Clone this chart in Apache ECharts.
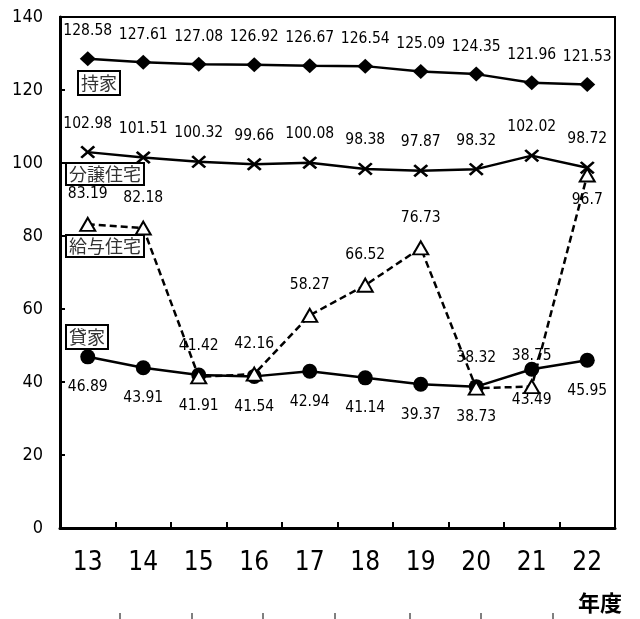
<!DOCTYPE html>
<html>
<head>
<meta charset="utf-8">
<script src="https://cdn.jsdelivr.net/npm/echarts@6/dist/echarts.min.js"></script>
<style>
  html, body { margin: 0; padding: 0; background: #fff; }
  #chart { width: 640px; height: 619px; }
</style>
</head>
<body>
<div id="chart"></div>
<script>
// 年度 (fiscal years)
const years = ['13', '14', '15', '16', '17', '18', '19', '20', '21', '22'];

// 持家
const mochiie = [128.58, 127.61, 127.08, 126.92, 126.67, 126.54, 125.09, 124.35, 121.96, 121.53];
// 分譲住宅
const bunjo = [102.98, 101.51, 100.32, 99.66, 100.08, 98.38, 97.87, 98.32, 102.02, 98.72];
// 給与住宅
const kyuyo = [83.19, 82.18, 41.42, 42.16, 58.27, 66.52, 76.73, 38.32, 38.75, 96.7];
// 貸家
const kashiya = [46.89, 43.91, 41.91, 41.54, 42.94, 41.14, 39.37, 38.73, 43.49, 45.95];

const yTicks = { min: 0, max: 140, interval: 20 };

const numFont = "'DejaVu Sans Condensed', 'DejaVu Sans', sans-serif";
const jpFont = "'Noto Sans CJK JP', sans-serif";

// thick X-shaped marker
const crossPath = 'path://M0,1.3 L1.3,0 L5,3.7 L8.7,0 L10,1.3 L6.3,5 L10,8.7 L8.7,10 L5,6.3 L1.3,10 L0,8.7 L3.7,5 Z';

function valueLabel(pos, dist) {
  return {
    show: true,
    position: pos,
    distance: dist,
    color: '#000',
    fontFamily: numFont,
    fontSize: 15.5,
    formatter: p => String(p.value)
  };
}

const chart = echarts.init(document.getElementById('chart'), null, { renderer: 'canvas' });

const option = {
  backgroundColor: '#fff',
  animation: false,
  grid: {
    left: 60, right: 25, top: 17, bottom: 91,
    show: true, borderColor: '#000', borderWidth: 2, backgroundColor: 'transparent'
  },
  xAxis: {
    type: 'category',
    data: years,
    boundaryGap: true,
    axisLine: { lineStyle: { color: '#000', width: 3 } },
    axisTick: { show: true, inside: true, length: 6, lineStyle: { color: '#000', width: 2 } },
    axisLabel: { color: '#000', fontFamily: numFont, fontSize: 26, margin: 22 },
    splitLine: { show: false }
  },
  yAxis: {
    type: 'value',
    min: yTicks.min, max: yTicks.max, interval: yTicks.interval,
    axisLine: { show: true, lineStyle: { color: '#000', width: 3 } },
    axisTick: { show: true, inside: true, length: 5, lineStyle: { color: '#000', width: 2 } },
    axisLabel: { color: '#000', fontFamily: numFont, fontSize: 18, margin: 17 },
    splitLine: { show: false }
  },
  series: [
    {
      name: '持家', type: 'line', data: mochiie,
      symbol: 'diamond', symbolSize: [16, 15],
      lineStyle: { color: '#000', width: 2.5 },
      itemStyle: { color: '#000' },
      label: valueLabel('top', 12)
    },
    {
      name: '分譲住宅', type: 'line', data: bunjo,
      symbol: crossPath, symbolSize: [15, 13],
      lineStyle: { color: '#000', width: 2.5 },
      itemStyle: { color: '#000' },
      label: valueLabel('top', 14)
    },
    {
      name: '給与住宅', type: 'line',
      data: kyuyo.map((v, i) => i === kyuyo.length - 1
        ? { value: v, label: { position: 'bottom', distance: 9 } }
        : v),
      symbol: 'triangle', symbolSize: [15, 13],
      lineStyle: { color: '#000', width: 2.5, type: [7, 4] },
      itemStyle: { color: '#fff', borderColor: '#000', borderWidth: 2 },
      label: valueLabel('top', 15),
      z: 3
    },
    {
      name: '貸家', type: 'line', data: kashiya,
      symbol: 'circle', symbolSize: 15,
      lineStyle: { color: '#000', width: 2.5 },
      itemStyle: { color: '#000' },
      label: valueLabel('bottom', 15),
      z: 2
    }
  ],
  graphic: [
    // series name boxes
    { type: 'text', left: 77, top: 70, z: 100,
      style: { text: '持家', fill: '#333', font: '18px ' + jpFont, backgroundColor: '#fff',
               borderColor: '#000', borderWidth: 2, padding: [2, 2, 2, 2] } },
    { type: 'text', left: 65, top: 162, z: 100,
      style: { text: '分譲住宅', fill: '#333', font: '18px ' + jpFont, backgroundColor: '#fff',
               borderColor: '#000', borderWidth: 2, padding: [1, 2, 1, 2] } },
    { type: 'text', left: 65, top: 234, z: 100,
      style: { text: '給与住宅', fill: '#333', font: '18px ' + jpFont, backgroundColor: '#fff',
               borderColor: '#000', borderWidth: 2, padding: [1, 2, 1, 2] } },
    { type: 'text', left: 65, top: 324, z: 100,
      style: { text: '貸家', fill: '#333', font: '18px ' + jpFont, backgroundColor: '#fff',
               borderColor: '#000', borderWidth: 2, padding: [2, 2, 2, 2] } },
    // axis unit
    { type: 'text', left: 578, top: 592,
      style: { text: '年度', fill: '#000', font: 'bold 22px ' + jpFont } },
    // stray marks along the bottom edge
    { type: 'text', left: -3, top: 592,
      style: { text: ':', fill: '#555', font: '12px ' + numFont } },
    ...[120, 192, 263, 335, 410, 481, 553].map(x => ({
      type: 'line', shape: { x1: x, y1: 613, x2: x, y2: 619 },
      style: { stroke: '#000', lineWidth: 1 }
    }))
  ]
};

chart.setOption(option);
</script>
</body>
</html>
